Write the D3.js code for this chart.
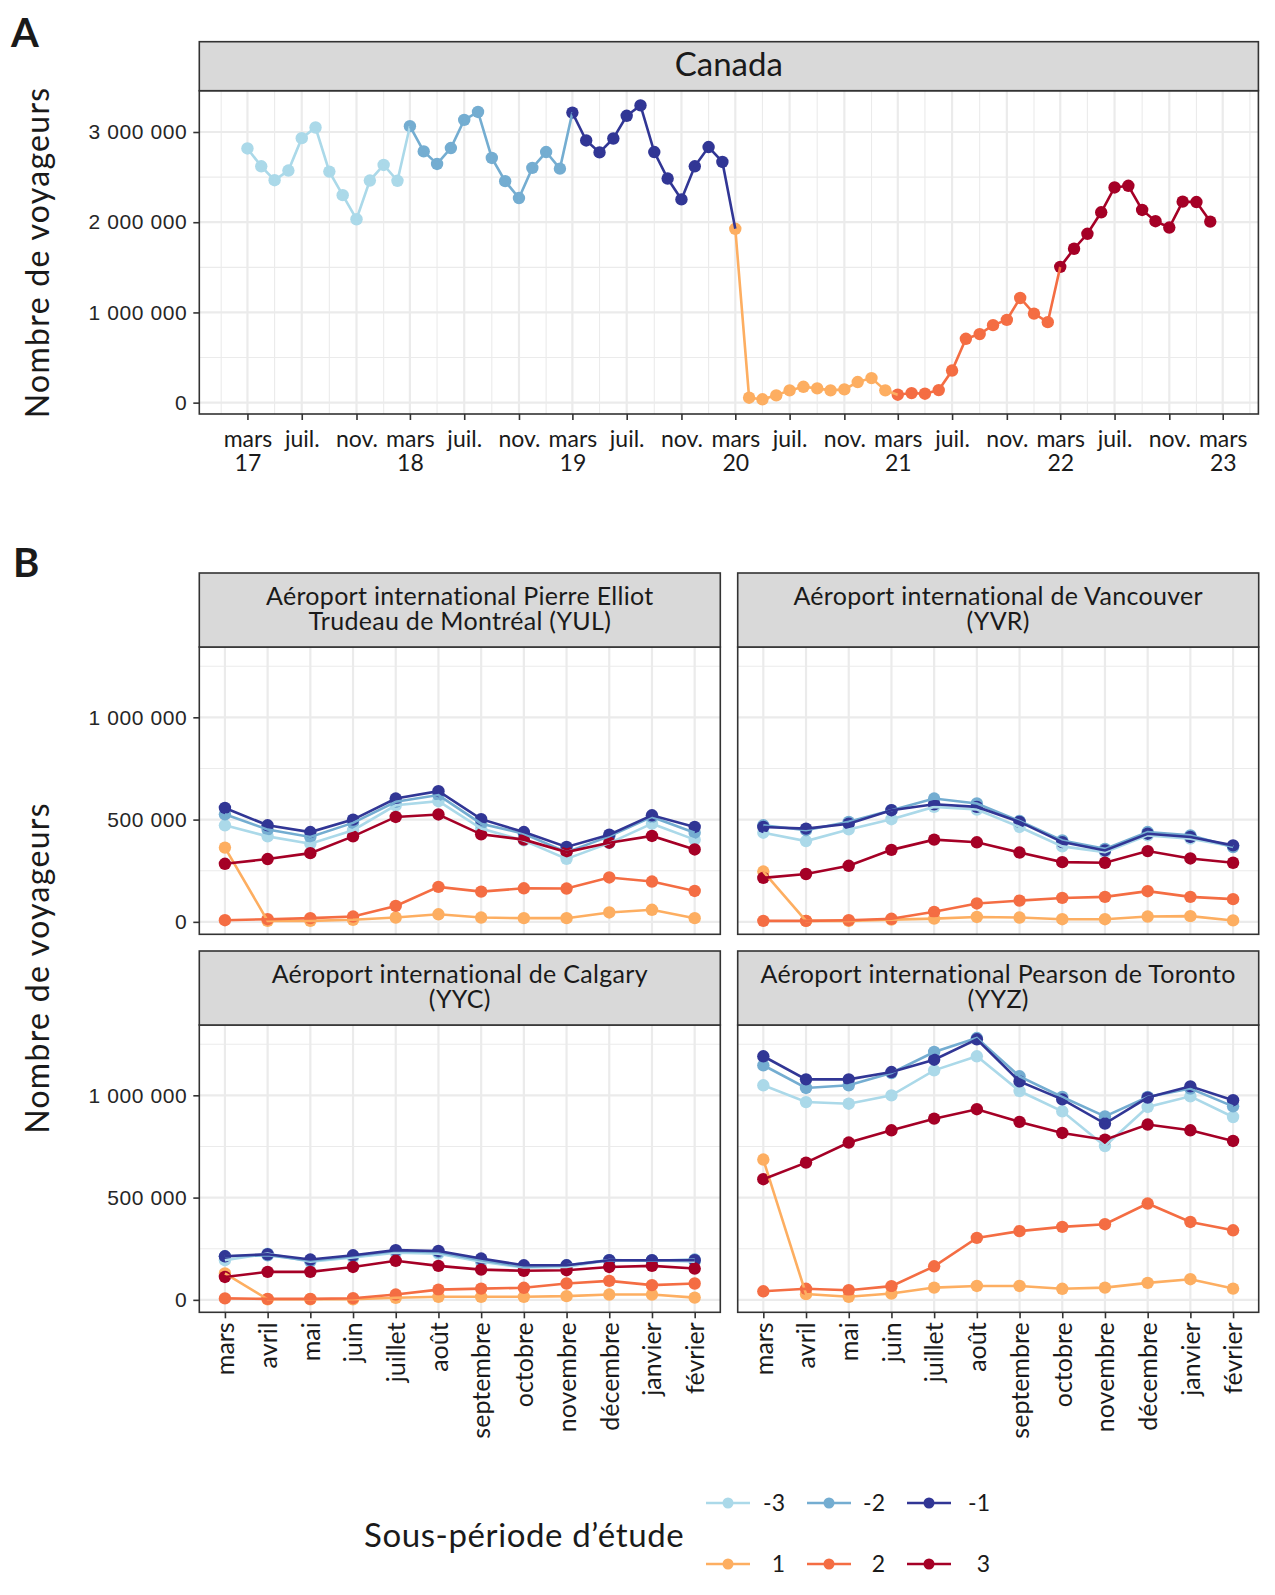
<!DOCTYPE html>
<html>
<head>
<meta charset="utf-8">
<script src="https://cdn.jsdelivr.net/npm/d3@7"></script>
<style>
  body { margin: 0; background: #fff; }
</style>
</head>
<body>
<div id="chart"></div>
<script>
// values in thousands of travellers
var periods = ["-3", "-2", "-1", "1", "2", "3"];
var colors = ["#abd9e9", "#74add1", "#313695", "#fdae61", "#f46d43", "#a50026"];
var months = ["mars", "avril", "mai", "juin", "juillet", "août", "septembre",
  "octobre", "novembre", "décembre", "janvier", "février"];
var monthShort = ["janv.", "févr.", "mars", "avr.", "mai", "juin", "juil.", "août", "sept.", "oct.", "nov.", "déc."];

// Canada, mars 2017 -> février 2023
var canada = [2818, 2620, 2466, 2573, 2932, 3050, 2561, 2300, 2033, 2462, 2635, 2459,
  3064, 2785, 2646, 2822, 3134, 3222, 2712, 2455, 2268, 2602, 2778, 2594,
  3215, 2906, 2774, 2928, 3180, 3295, 2778, 2484, 2253, 2620, 2833, 2668,
  1927, 55, 37, 81, 136, 176, 158, 136, 147, 228, 272, 136,
  88, 106, 99, 139, 356, 708, 760, 859, 917, 1160, 987, 892,
  1505, 1706, 1872, 2110, 2385, 2404, 2136, 2011, 1941, 2228, 2224, 2007];

// airports: one row per sub-period (-3, -2, -1, 1, 2, 3), months mars -> février
var yul = [
  [472, 418, 382, 448, 570, 590, 456, 398, 308, 385, 480, 402],
  [526, 451, 415, 484, 587, 620, 480, 431, 341, 418, 513, 436],
  [557, 472, 439, 500, 603, 639, 502, 439, 366, 426, 521, 464],
  [363, 5, 5, 10, 21, 37, 21, 18, 18, 46, 59, 18],
  [8, 13, 18, 26, 78, 171, 148, 164, 163, 217, 197, 151],
  [284, 307, 336, 418, 513, 525, 428, 402, 341, 387, 420, 354]];
var yvr = [
  [436, 395, 452, 502, 562, 549, 464, 369, 341, 423, 407, 369],
  [472, 448, 489, 546, 603, 579, 493, 398, 357, 439, 423, 366],
  [464, 456, 480, 546, 575, 562, 489, 390, 349, 431, 415, 374],
  [246, 5, 5, 11, 16, 24, 21, 13, 13, 26, 28, 7],
  [5, 5, 8, 15, 49, 90, 104, 117, 122, 150, 122, 111],
  [215, 234, 274, 352, 402, 389, 339, 292, 289, 346, 310, 289]];
var yyc = [
  [194, 226, 186, 207, 231, 226, 186, 158, 161, 194, 194, 186],
  [213, 218, 191, 213, 239, 233, 194, 161, 169, 194, 191, 197],
  [213, 223, 197, 218, 243, 239, 202, 169, 169, 194, 194, 194],
  [129, 3, 3, 3, 10, 15, 15, 15, 18, 26, 26, 11],
  [7, 5, 5, 8, 26, 50, 55, 59, 80, 93, 72, 80],
  [112, 137, 137, 161, 191, 166, 148, 142, 145, 161, 166, 153]];
var yyz = [
  [1049, 967, 959, 1000, 1122, 1191, 1021, 922, 752, 943, 995, 894],
  [1147, 1036, 1049, 1109, 1212, 1280, 1093, 992, 897, 992, 1033, 946],
  [1191, 1078, 1078, 1114, 1174, 1274, 1068, 980, 862, 989, 1044, 976],
  [686, 28, 15, 31, 60, 68, 68, 54, 60, 83, 101, 55],
  [42, 54, 47, 67, 164, 303, 336, 357, 370, 471, 381, 340],
  [590, 671, 769, 829, 886, 932, 870, 816, 783, 857, 829, 777]];

var airports = [
  { title: ["Aéroport international Pierre Elliot", "Trudeau de Montréal (YUL)"], data: yul, col: 0, row: 0 },
  { title: ["Aéroport international de Vancouver", "(YVR)"], data: yvr, col: 1, row: 0 },
  { title: ["Aéroport international de Calgary", "(YYC)"], data: yyc, col: 0, row: 1 },
  { title: ["Aéroport international Pearson de Toronto", "(YYZ)"], data: yyz, col: 1, row: 1 }];

var width = 1275, height = 1595;
var grid = "#ebebeb", dark = "#333333", stripFill = "#d9d9d9";
var textFont = "Lato, sans-serif", numFont = "'Liberation Sans', Arial, sans-serif";
var ptR = 6.2, lineW = 2.6;

function expand(vals) {
  var mn = d3.min(vals), mx = d3.max(vals), r = mx - mn;
  return [mn - r * 0.05, mx + r * 0.05];
}
function fmt(v) {
  return d3.format(",")(Math.round(v * 1000)).replace(/,/g, " ");
}

var svg = d3.select("#chart").append("svg")
  .attr("width", width)
  .attr("height", height)
  .style("font-family", textFont);

svg.append("rect").attr("width", width).attr("height", height).attr("fill", "#fff");

// ---------------- A ----------------
var aLeft = 199.3, aRight = 1258.4, aStripTop = 41.7, aTop = 90.7, aBottom = 414;
var start = new Date(Date.UTC(2017, 2, 1));
var dates = canada.map(function(d, i) { return d3.utcMonth.offset(start, i); });
var t0 = +dates[0], t1 = +dates[dates.length - 1], pad = (t1 - t0) * 0.05;
var xA = d3.scaleUtc().domain([new Date(t0 - pad), new Date(t1 + pad)]).range([aLeft, aRight]);
var yA = d3.scaleLinear().domain(expand(canada)).range([aBottom, aTop]);

var gA = svg.append("g");
var majorX = d3.utcMonth.range(start, new Date(Date.UTC(2023, 3, 1)), 4);
var minorX = d3.utcMonth.range(new Date(Date.UTC(2017, 0, 1)), new Date(Date.UTC(2023, 6, 1)), 4)
  .filter(function(d) { return xA(d) > aLeft && xA(d) < aRight; });

gA.selectAll("line.minx").data(minorX).enter().append("line")
  .attr("x1", xA).attr("x2", xA).attr("y1", aTop).attr("y2", aBottom)
  .attr("stroke", grid).attr("stroke-width", 1.1);
gA.selectAll("line.miny").data([500, 1500, 2500]).enter().append("line")
  .attr("x1", aLeft).attr("x2", aRight).attr("y1", yA).attr("y2", yA)
  .attr("stroke", grid).attr("stroke-width", 1.1);
gA.selectAll("line.majx").data(majorX).enter().append("line")
  .attr("x1", xA).attr("x2", xA).attr("y1", aTop).attr("y2", aBottom)
  .attr("stroke", grid).attr("stroke-width", 2.2);
gA.selectAll("line.majy").data([0, 1000, 2000, 3000]).enter().append("line")
  .attr("x1", aLeft).attr("x2", aRight).attr("y1", yA).attr("y2", yA)
  .attr("stroke", grid).attr("stroke-width", 2.2);

var ptsA = canada.map(function(v, i) { return { date: dates[i], v: v, p: Math.floor(i / 12) }; });
gA.selectAll("circle").data(ptsA).enter().append("circle")
  .attr("cx", function(d) { return xA(d.date); })
  .attr("cy", function(d) { return yA(d.v); })
  .attr("r", ptR)
  .attr("fill", function(d) { return colors[d.p]; });

var lineA = d3.line().x(function(d) { return xA(d.date); }).y(function(d) { return yA(d.v); });
periods.forEach(function(p, k) {
  // each sub-period's line runs to the first point of the next one
  gA.append("path")
    .datum(ptsA.slice(k * 12, k * 12 + 13))
    .attr("d", lineA)
    .attr("fill", "none")
    .attr("stroke", colors[k])
    .attr("stroke-width", lineW);
});

gA.append("rect")
  .attr("x", aLeft).attr("y", aTop).attr("width", aRight - aLeft).attr("height", aBottom - aTop)
  .attr("fill", "none").attr("stroke", dark).attr("stroke-width", 1.6);
gA.append("rect")
  .attr("x", aLeft).attr("y", aStripTop).attr("width", aRight - aLeft).attr("height", aTop - aStripTop)
  .attr("fill", stripFill).attr("stroke", dark).attr("stroke-width", 1.6);
gA.append("text")
  .attr("x", (aLeft + aRight) / 2).attr("y", aStripTop + 34)
  .attr("text-anchor", "middle").attr("font-size", 33).attr("fill", "#1a1a1a")
  .text("Canada");

var axYA = gA.append("g").attr("transform", "translate(" + aLeft + ",0)")
  .call(d3.axisLeft(yA).tickValues([0, 1000, 2000, 3000]).tickSize(6).tickPadding(6).tickFormat(fmt));
axYA.select(".domain").remove();
axYA.selectAll(".tick line").attr("stroke", dark).attr("stroke-width", 1.6);
axYA.selectAll(".tick text").attr("font-family", numFont).attr("font-size", 21)
  .attr("letter-spacing", 0.6).attr("fill", "#262626");

var axXA = gA.append("g").attr("transform", "translate(0," + aBottom + ")")
  .call(d3.axisBottom(xA).tickValues(majorX).tickSize(6).tickFormat(""));
axXA.select(".domain").remove();
axXA.selectAll(".tick line").attr("stroke", dark).attr("stroke-width", 1.6);
axXA.selectAll(".tick").each(function(d) {
  var t = d3.select(this).append("text")
    .attr("text-anchor", "middle").attr("font-size", 23).attr("fill", "#1a1a1a")
    .attr("font-family", textFont);
  t.append("tspan").attr("x", 0).attr("y", 33).text(monthShort[d.getUTCMonth()]);
  if (d.getUTCMonth() === 2) {
    t.append("tspan").attr("x", 0).attr("y", 57).text(String(d.getUTCFullYear()).slice(2));
  }
});

svg.append("text")
  .attr("transform", "translate(49," + (aTop + aBottom) / 2 + ")rotate(-90)")
  .attr("text-anchor", "middle").attr("font-size", 32).attr("letter-spacing", 1.3)
  .attr("fill", "#1a1a1a")
  .text("Nombre de voyageurs");

svg.append("text").attr("x", 11).attr("y", 47)
  .attr("font-size", 40).attr("font-weight", "bold").attr("fill", "#1a1a1a").text("A");

// ---------------- B ----------------
svg.append("text").attr("x", 13).attr("y", 577)
  .attr("font-size", 40).attr("font-weight", "bold").attr("fill", "#1a1a1a").text("B");

var bCols = [199.3, 737.7], bW = 521, bRows = [573, 951], stripH = 74, panelH = 287.3;
var allVals = [];
airports.forEach(function(a) { a.data.forEach(function(s) { allVals = allVals.concat(s); }); });
var yDomB = expand(allVals);

airports.forEach(function(a) {
  var left = bCols[a.col], stripTop = bRows[a.row], top = stripTop + stripH, bottom = top + panelH;
  var x = d3.scalePoint().domain(months).range([left, left + bW]).padding(0.6);
  var y = d3.scaleLinear().domain(yDomB).range([bottom, top]);
  var g = svg.append("g");

  g.selectAll("line.miny").data([250, 750, 1250]).enter().append("line")
    .attr("x1", left).attr("x2", left + bW).attr("y1", y).attr("y2", y)
    .attr("stroke", grid).attr("stroke-width", 1.1);
  g.selectAll("line.majx").data(months).enter().append("line")
    .attr("x1", x).attr("x2", x).attr("y1", top).attr("y2", bottom)
    .attr("stroke", grid).attr("stroke-width", 2.2);
  g.selectAll("line.majy").data([0, 500, 1000]).enter().append("line")
    .attr("x1", left).attr("x2", left + bW).attr("y1", y).attr("y2", y)
    .attr("stroke", grid).attr("stroke-width", 2.2);

  a.data.forEach(function(series, k) {
    g.selectAll("circle.p" + k).data(series).enter().append("circle")
      .attr("cx", function(d, i) { return x(months[i]); })
      .attr("cy", function(d) { return y(d); })
      .attr("r", ptR)
      .attr("fill", colors[k]);
  });
  var line = d3.line().x(function(d, i) { return x(months[i]); }).y(function(d) { return y(d); });
  a.data.forEach(function(series, k) {
    g.append("path").datum(series).attr("d", line)
      .attr("fill", "none").attr("stroke", colors[k]).attr("stroke-width", lineW);
  });

  g.append("rect")
    .attr("x", left).attr("y", top).attr("width", bW).attr("height", panelH)
    .attr("fill", "none").attr("stroke", dark).attr("stroke-width", 1.6);
  g.append("rect")
    .attr("x", left).attr("y", stripTop).attr("width", bW).attr("height", stripH)
    .attr("fill", stripFill).attr("stroke", dark).attr("stroke-width", 1.6);
  var st = g.append("text").attr("text-anchor", "middle").attr("font-size", 25)
    .attr("letter-spacing", 0.3).attr("fill", "#1a1a1a");
  st.append("tspan").attr("x", left + bW / 2).attr("y", stripTop + 32).text(a.title[0]);
  st.append("tspan").attr("x", left + bW / 2).attr("y", stripTop + 57).text(a.title[1]);

  if (a.col === 0) {
    var ay = g.append("g").attr("transform", "translate(" + left + ",0)")
      .call(d3.axisLeft(y).tickValues([0, 500, 1000]).tickSize(6).tickPadding(6).tickFormat(fmt));
    ay.select(".domain").remove();
    ay.selectAll(".tick line").attr("stroke", dark).attr("stroke-width", 1.6);
    ay.selectAll(".tick text").attr("font-family", numFont).attr("font-size", 21)
      .attr("letter-spacing", 0.6).attr("fill", "#262626");
  }
  if (a.row === 1) {
    var ax = g.append("g").attr("transform", "translate(0," + bottom + ")")
      .call(d3.axisBottom(x).tickSize(6).tickPadding(4));
    ax.select(".domain").remove();
    ax.selectAll(".tick line").attr("stroke", dark).attr("stroke-width", 1.6);
    ax.selectAll(".tick text")
      .attr("font-family", textFont).attr("font-size", 25).attr("fill", "#1a1a1a")
      .attr("text-anchor", "end")
      .attr("transform", "rotate(-90)")
      .attr("x", -10).attr("y", 0).attr("dy", "0.35em");
  }
});

svg.append("text")
  .attr("transform", "translate(49,968)rotate(-90)")
  .attr("text-anchor", "middle").attr("font-size", 32).attr("letter-spacing", 1.3)
  .attr("fill", "#1a1a1a")
  .text("Nombre de voyageurs");

// ---------------- legend ----------------
var leg = svg.append("g");
leg.append("text").attr("x", 364).attr("y", 1547)
  .attr("font-size", 33).attr("letter-spacing", 0.6).attr("fill", "#1a1a1a")
  .text("Sous-période d’étude");
var keyX = [728, 829, 929], labX = [785, 885, 990], rowY = [1503, 1564];
periods.forEach(function(p, k) {
  var cx = keyX[k % 3], cy = rowY[Math.floor(k / 3)];
  leg.append("line").attr("x1", cx - 22).attr("x2", cx + 22).attr("y1", cy).attr("y2", cy)
    .attr("stroke", colors[k]).attr("stroke-width", 2.6);
  leg.append("circle").attr("cx", cx).attr("cy", cy).attr("r", 5.5).attr("fill", colors[k]);
  leg.append("text").attr("x", labX[k % 3]).attr("y", cy).attr("dy", "0.35em")
    .attr("text-anchor", "end").attr("font-size", 23).attr("fill", "#1a1a1a").text(p);
});
</script>
</body>
</html>
